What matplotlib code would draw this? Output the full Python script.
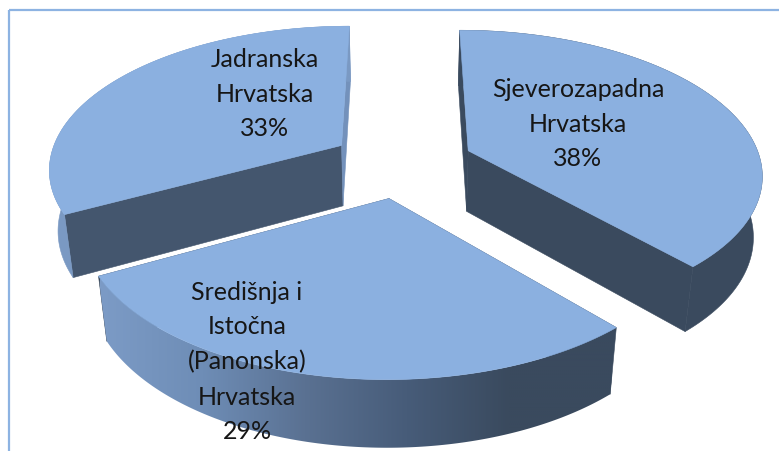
import matplotlib
matplotlib.use('Agg')
import matplotlib.pyplot as plt
from matplotlib.colors import LinearSegmentedColormap
from matplotlib.patches import Polygon, Rectangle
import numpy as np

# shares, clockwise from the top of the pie
regije = ['Sjeverozapadna\nHrvatska', 'Središnja i\nIstočna\n(Panonska)\nHrvatska', 'Jadranska\nHrvatska']
udjeli = [38.4, 28.8, 32.8]

# label centres in pixels
label_xy = [(578, 124), (247, 362), (265, 94)]

TOP = '#8BB0E0'
DARK = '#3A4A5E'

# projection of the tilted pie, fitted to the picture
CX, CY = 402, 164
A, B = 293, 142
D = 62.6
K, M = 0.15, 0.025
EXPLODE = 0.245


def project(X, Y, z=0.0):
    s = 1 / (1 + K * Y + M * z)
    return CX + A * X * s, CY + (-B * Y + D * z) * s


fig = plt.figure(figsize=(7.79, 4.52), dpi=100)
ax = fig.add_axes([0, 0, 1, 1])

# chart frame, its right and bottom edges fall outside the crop
ax.add_patch(Rectangle((9, 11), 900, 600, fill=False, edgecolor='#8DB3E2', lw=1.6, zorder=1))

rim_cmap = LinearSegmentedColormap.from_list('rim', ['#7C9BC6', '#6E8DB6', '#5A7192', '#475C79', DARK, DARK])

edges = np.cumsum([0] + udjeli) / sum(udjeli) * 2 * np.pi
wedges = [(edges[i], edges[i + 1]) for i in range(len(udjeli))]


def draw_wedge(i, z, cut_colors, rim_color=None):
    t0, t1 = wedges[i]
    mid = (t0 + t1) / 2
    ox, oy = EXPLODE * np.sin(mid), EXPLODE * np.cos(mid)
    t = np.linspace(t0, t1, 200)
    X, Y = ox + np.sin(t), oy + np.cos(t)

    # flat cut faces
    for j, col in zip((0, -1), cut_colors):
        pts = [project(ox, oy), project(X[j], Y[j]), project(X[j], Y[j], 1), project(ox, oy, 1)]
        ax.add_patch(Polygon(pts, facecolor=col, edgecolor=col, lw=0.4, zorder=z))

    # outer rim
    rx0, ry0 = project(X, Y)
    rx1, ry1 = project(X, Y, 1)
    rim = np.r_[np.c_[rx0, ry0], np.c_[rx1, ry1][::-1]]
    if rim_color is None:
        poly = Polygon(rim, facecolor='none', edgecolor='none', zorder=z)
        ax.add_patch(poly)
        im = ax.imshow(np.linspace(0, 1, 256)[None, :], cmap=rim_cmap, extent=(100, 612, 460, 200),
                       aspect='auto', zorder=z + 0.1, interpolation='bilinear')
        im.set_clip_path(poly)
    else:
        ax.add_patch(Polygon(rim, facecolor=rim_color, edgecolor=rim_color, lw=0.4, zorder=z + 0.1))

    # top face
    tx, ty = project(np.r_[ox, X], np.r_[oy, Y])
    ax.add_patch(Polygon(np.c_[tx, ty], facecolor=TOP, edgecolor=TOP, lw=0.4, zorder=z + 0.2))


# back slices first, the front one last
draw_wedge(2, 2, ('#44566E', '#7391BB'), '#7A99C3')
draw_wedge(0, 3, (DARK, DARK), DARK)
draw_wedge(1, 4, (DARK, DARK))

for naziv, udio, (lx, ly) in zip(regije, udjeli, label_xy):
    ax.text(lx, ly, f'{naziv}\n{udio:.0f}%', ha='center', va='center', family='Lato',
            fontsize=18, color='#161616', linespacing=1.62, zorder=6)

ax.set_xlim(0, 779)
ax.set_ylim(452, 0)
ax.axis('off')

fig.savefig('out.png', dpi=100)
